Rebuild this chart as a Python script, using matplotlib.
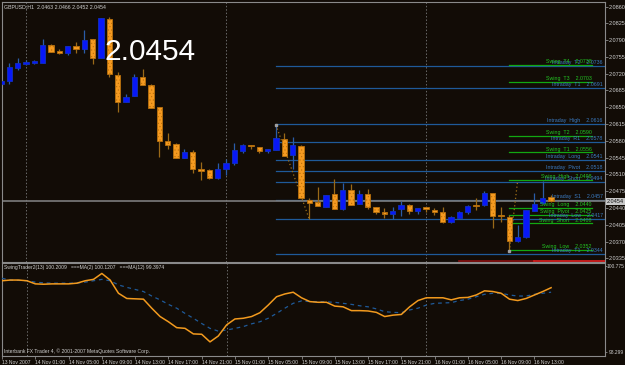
import matplotlib.pyplot as plt
import numpy as np

plt.rcParams['font.family'] = ['Liberation Sans', 'DejaVu Sans']
plt.rcParams['hatch.linewidth'] = 0.4

# GBPUSD H1 bars, 13 Nov 21:00 .. 16 Nov 15:00
opens = [2.0698, 2.0704, 2.0731, 2.0740, 2.0742, 2.0742, 2.0779, 2.0767, 2.0763, 2.0777,
         2.0771, 2.0792, 2.0752, 2.0833, 2.0717, 2.0661, 2.0673, 2.0713, 2.0696, 2.0650,
         2.0580, 2.0574, 2.0545, 2.0557, 2.0522, 2.0520, 2.0503, 2.0522, 2.0534, 2.0559,
         2.0572, 2.0567, 2.0559, 2.0561, 2.0584, 2.0551, 2.0570, 2.0457, 2.0453, 2.0443,
         2.0470, 2.0437, 2.0478, 2.0449, 2.0470, 2.0441, 2.0431, 2.0428, 2.0437, 2.0447,
         2.0433, 2.0441, 2.0435, 2.0431, 2.0410, 2.0420, 2.0431, 2.0447, 2.0447, 2.0472,
         2.0426, 2.0422, 2.0372, 2.0379, 2.0433, 2.0451, 2.0463]
highs = [2.0709, 2.0742, 2.0752, 2.0748, 2.0748, 2.0792, 2.0781, 2.0771, 2.0777, 2.0787,
         2.0810, 2.0792, 2.0835, 2.0839, 2.0723, 2.0677, 2.0719, 2.0729, 2.0698, 2.0650,
         2.0597, 2.0576, 2.0563, 2.0561, 2.0536, 2.0522, 2.0534, 2.0543, 2.0576, 2.0574,
         2.0572, 2.0567, 2.0563, 2.0613, 2.0597, 2.0588, 2.0572, 2.0460, 2.0484, 2.0468,
         2.0501, 2.0491, 2.0489, 2.0478, 2.0480, 2.0443, 2.0439, 2.0443, 2.0455, 2.0449,
         2.0439, 2.0441, 2.0439, 2.0441, 2.0424, 2.0433, 2.0447, 2.0460, 2.0476, 2.0472,
         2.0441, 2.0426, 2.0404, 2.0435, 2.0472, 2.0497, 2.0466]
lows = [2.0694, 2.0698, 2.0727, 2.0738, 2.0740, 2.0742, 2.0765, 2.0760, 2.0758, 2.0763,
        2.0763, 2.0740, 2.0752, 2.0713, 2.0640, 2.0661, 2.0673, 2.0696, 2.0648, 2.0547,
        2.0563, 2.0545, 2.0545, 2.0513, 2.0499, 2.0501, 2.0501, 2.0509, 2.0530, 2.0555,
        2.0563, 2.0555, 2.0555, 2.0561, 2.0549, 2.0522, 2.0460, 2.0416, 2.0445, 2.0443,
        2.0437, 2.0435, 2.0447, 2.0449, 2.0437, 2.0428, 2.0420, 2.0416, 2.0424, 2.0428,
        2.0428, 2.0431, 2.0426, 2.0408, 2.0408, 2.0418, 2.0428, 2.0435, 2.0445, 2.0399,
        2.0410, 2.0350, 2.0368, 2.0377, 2.0433, 2.0449, 2.0452]
closes = [2.0704, 2.0733, 2.0742, 2.0744, 2.0746, 2.0779, 2.0765, 2.0763, 2.0777, 2.0771,
          2.0790, 2.0752, 2.0835, 2.0719, 2.0661, 2.0671, 2.0713, 2.0696, 2.0648, 2.0580,
          2.0572, 2.0545, 2.0557, 2.0522, 2.0518, 2.0503, 2.0522, 2.0534, 2.0561, 2.0572,
          2.0570, 2.0559, 2.0563, 2.0586, 2.0549, 2.0572, 2.0460, 2.0451, 2.0445, 2.0468,
          2.0437, 2.0478, 2.0447, 2.0470, 2.0443, 2.0431, 2.0428, 2.0433, 2.0447, 2.0433,
          2.0439, 2.0437, 2.0431, 2.0410, 2.0422, 2.0431, 2.0445, 2.0445, 2.0472, 2.0424,
          2.0424, 2.0372, 2.0379, 2.0435, 2.0449, 2.0460, 2.0454]

# indicator window: fast MA (orange) and slow MA (blue dashed)
ma_fast = [100.35, 100.37, 100.37, 100.35, 100.26, 100.25, 100.26, 100.26, 100.26, 100.28,
           100.35, 100.39, 100.56, 100.37, 99.99, 99.84, 99.83, 99.82, 99.56, 99.32,
           99.17, 99.00, 98.98, 98.82, 98.81, 98.59, 98.76, 99.08, 99.25, 99.27,
           99.32, 99.43, 99.65, 99.89, 99.97, 100.02, 99.86, 99.75, 99.73, 99.73,
           99.62, 99.60, 99.49, 99.49, 99.48, 99.44, 99.32, 99.36, 99.38, 99.60,
           99.78, 99.86, 99.86, 99.86, 99.80, 99.86, 99.87, 99.94, 100.06, 100.04,
           99.99, 99.82, 99.78, 99.84, 99.94, 100.04, 100.15]
ma_slow = [100.42, 100.37, 100.36, 100.35, 100.31, 100.29, 100.28, 100.28, 100.28, 100.28,
           100.31, 100.35, 100.39, 100.35, 100.23, 100.16, 100.10, 100.04, 99.91, 99.80,
           99.67, 99.56, 99.41, 99.27, 99.12, 98.98, 98.90, 98.93, 98.98, 99.03,
           99.11, 99.17, 99.27, 99.41, 99.56, 99.70, 99.77, 99.75, 99.75, 99.74,
           99.73, 99.70, 99.67, 99.63, 99.60, 99.54, 99.46, 99.44, 99.43, 99.51,
           99.56, 99.65, 99.70, 99.71, 99.72, 99.78, 99.82, 99.89, 99.96, 99.99,
           99.99, 99.94, 99.91, 99.91, 99.96, 99.99, 100.02]

intraday_names = ['T2', 'T1', 'High', 'R1', 'Long', 'Pivot', 'Short', 'S1', 'Low', 'T1']
intraday_levels = [2.0736, 2.0691, 2.0616, 2.0578, 2.0541, 2.0518, 2.0494, 2.0457, 2.0417, 2.0344]
swing_names = ['T4', 'T3', 'T2', 'T1', 'High', 'Long', 'Pivot', 'Short', 'Low']
swing_levels = [2.0738, 2.0703, 2.0590, 2.0556, 2.0498, 2.0440, 2.0425, 2.0408, 2.0352]

zigzag = [[(33, 2.0613), (37, 2.0416)], [(61, 2.0350), (62, 2.0497)]]
day_breaks = [3, 27, 51]
time_ticks = [0, 4, 8, 12, 16, 20, 24, 28, 32, 36, 40, 44, 48, 52, 56, 60, 64]
time_labels = ['13 Nov 2007', '14 Nov 01:00', '14 Nov 05:00', '14 Nov 09:00', '14 Nov 13:00',
               '14 Nov 17:00', '14 Nov 21:00', '15 Nov 01:00', '15 Nov 05:00', '15 Nov 09:00',
               '15 Nov 13:00', '15 Nov 17:00', '15 Nov 21:00', '16 Nov 01:00', '16 Nov 05:00',
               '16 Nov 09:00', '16 Nov 13:00']
price_ticks = [2.0860, 2.0825, 2.0790, 2.0755, 2.0720, 2.0685, 2.0650, 2.0615, 2.0580,
               2.0545, 2.0510, 2.0475, 2.0440, 2.0405, 2.0370, 2.0335]
ind_max, ind_min = 100.7745, 98.299

bg = '#120c06'
grid_c = '#6a6a6a'
text_c = '#d0d0d0'
bull_c, bull_wick = '#0818f8', '#2a5ca8'
bear_c, bear_edge, bear_wick = '#f59a20', '#b8700c', '#9a6a18'
lvl_blue, lvl_green = '#1f5a99', '#12a812'

fig = plt.figure(figsize=(6.25, 3.65), dpi=100, facecolor=bg)
ax = fig.add_axes([2 / 625, 1 - 262 / 365, 603 / 625, 260 / 365])
ax2 = fig.add_axes([2 / 625, 1 - 356 / 365, 603 / 625, 93 / 365])

x = np.arange(len(opens))
o, h, l, c = map(np.array, (opens, highs, lows, closes))
up = c >= o

for a in (ax, ax2):
    a.set_facecolor(bg)
    for s in a.spines.values():
        s.set_color('#8a8a8a')
        s.set_linewidth(0.8)
    a.set_xlim(0.12, 72.48)
    for d in day_breaks:
        a.axvline(d, color=grid_c, ls=(0, (1.5, 2)), lw=0.7, zorder=1)

# main window
ax.set_ylim(2.03273, 2.08694)
ax.vlines(x[up], l[up], h[up], color=bull_wick, lw=0.9, zorder=3)
ax.vlines(x[~up], l[~up], h[~up], color=bear_wick, lw=0.9, zorder=3)
ax.bar(x[up], c[up] - o[up], bottom=o[up], width=0.66, color=bull_c,
       edgecolor='#1030c0', linewidth=0.6, zorder=4)
ax.bar(x[~up], o[~up] - c[~up], bottom=c[~up], width=0.66, color=bear_c,
       edgecolor=bear_edge, linewidth=0.6, hatch='.....', zorder=4)

for name, lv in zip(intraday_names, intraday_levels):
    ax.plot([33, 72.48], [lv, lv], color=lvl_blue, lw=0.9, zorder=2)
    ax.annotate(f'Intraday  {name}    {lv:.4f}', (72.2, lv), xytext=(0, 0.5),
                textcoords='offset points', ha='right', va='bottom',
                fontsize=3.8, color='#3b7cc4', zorder=5)
for name, lv in zip(swing_names, swing_levels):
    ax.plot([61, 70.9], [lv, lv], color=lvl_green, lw=0.9, zorder=2)
    ax.annotate(f'Swing  {name}    {lv:.4f}', (70.9, lv), xytext=(0, 0.5),
                textcoords='offset points', ha='right', va='bottom',
                fontsize=3.8, color='#22c422', zorder=5)

for seg in zigzag:
    zx, zy = zip(*seg)
    ax.plot(zx, zy, color='#a07018', ls=(0, (1, 2)), lw=0.9, zorder=3)
    ax.plot(zx[0], zy[0], 's', ms=2, color='#a0a0a0', zorder=6)

last = closes[-1]
ax.axhline(last, color='#7c7c7c', lw=1.2, zorder=2)
ax.plot([55, 64], [2.03285, 2.03285], color='#8a1010', lw=1.2, zorder=6)
ax.plot([64, 72.48], [2.03285, 2.03285], color='#e02020', lw=1.2, zorder=6)

ax.yaxis.tick_right()
ax.set_yticks(price_ticks)
ax.set_yticklabels([f'{p:.4f}' for p in price_ticks])
ax.tick_params(axis='y', length=2, width=0.6, color='#8a8a8a', labelsize=4,
               labelcolor=text_c, pad=1)
ax.set_xticks([])
ax.text(1.003, last, f'{last:.4f}', transform=ax.get_yaxis_transform(), fontsize=4,
        color='#101010', va='center', ha='left',
        bbox=dict(boxstyle='square,pad=0.15', fc='#c8c8c8', ec='none'), zorder=7)
ax.text(0.003, 0.993, f'GBPUSD,H1  {opens[-1]:.4f} {highs[-1]:.4f} {lows[-1]:.4f} {closes[-1]:.4f}',
        transform=ax.transAxes, fontsize=3.8, color=text_c, va='top', ha='left')
fig.text(105 / 625, 1 - 60 / 365, f'{last:.4f}', fontsize=21.5, color='white',
         va='baseline', ha='left')

# indicator window
ax2.set_ylim(98.184, 100.861)
ax2.plot(x, ma_slow, color=lvl_blue, lw=0.9, ls=(0, (3, 3)), zorder=3)
ax2.plot(x, ma_fast, color='#f29a1e', lw=1.1, zorder=4)
ax2.yaxis.tick_right()
ax2.set_yticks([ind_min, ind_max])
ax2.set_yticklabels([])
ax2.tick_params(axis='y', length=1.5, width=0.6, color='#8a8a8a')
for v in (ind_min, ind_max):
    # right-aligned to the figure edge so the wide label is not cut
    ax2.annotate(f'{v:g}', (1.0, v), xycoords=('figure fraction', 'data'),
                 xytext=(-0.5, 0), textcoords='offset points', ha='right',
                 va='center', fontsize=3.5, color=text_c)
ax2.set_xticks(time_ticks)
ax2.set_xticklabels(time_labels, ha='left')
ax2.tick_params(axis='x', length=2, width=0.6, color='#8a8a8a', labelsize=3.6,
                labelcolor=text_c, pad=1)
ax2.text(0.003, 0.975, 'SwingTrader2(13) 100.2009   ===MA(2) 100.1207   ===MA(12) 99.3974',
         transform=ax2.transAxes, fontsize=3.6, color=text_c, va='top', ha='left')
ax2.text(0.003, 0.02, 'Interbank FX Trader 4, \u00a9 2001-2007 MetaQuotes Software Corp.',
         transform=ax2.transAxes, fontsize=3.6, color=text_c, va='bottom', ha='left')

fig.savefig('out.png', dpi=100, facecolor=bg)
